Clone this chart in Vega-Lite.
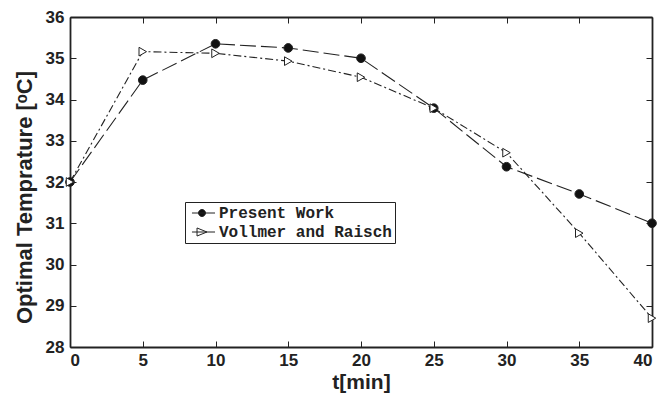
{
  "$schema": "https://vega.github.io/schema/vega-lite/v6.json",
  "autosize": "none",
  "width": 582,
  "height": 330,
  "padding": {"left": 70, "top": 17, "right": 9, "bottom": 50},
  "background": "white",
  "config": {
    "view": {"stroke": null},
    "axis": {
      "grid": false,
      "domainColor": "#222",
      "domainWidth": 1.8,
      "tickColor": "#222",
      "tickWidth": 1,
      "labelFont": "Liberation Sans",
      "labelFontWeight": "bold",
      "labelFontSize": 17,
      "labelColor": "#222",
      "titleFont": "Liberation Sans",
      "titleFontWeight": "bold",
      "titleFontSize": 21,
      "titleColor": "#222"
    }
  },
  "data": {
    "values": [
      {"t": 0, "temp": 32.0, "series": "Present Work"},
      {"t": 5, "temp": 34.47, "series": "Present Work"},
      {"t": 10, "temp": 35.35, "series": "Present Work"},
      {"t": 15, "temp": 35.25, "series": "Present Work"},
      {"t": 20, "temp": 35.0, "series": "Present Work"},
      {"t": 25, "temp": 33.79, "series": "Present Work"},
      {"t": 30, "temp": 32.37, "series": "Present Work"},
      {"t": 35, "temp": 31.71, "series": "Present Work"},
      {"t": 40, "temp": 31.0, "series": "Present Work"},
      {"t": 0, "temp": 32.0, "series": "Vollmer and Raisch"},
      {"t": 5, "temp": 35.16, "series": "Vollmer and Raisch"},
      {"t": 10, "temp": 35.12, "series": "Vollmer and Raisch"},
      {"t": 15, "temp": 34.93, "series": "Vollmer and Raisch"},
      {"t": 20, "temp": 34.54, "series": "Vollmer and Raisch"},
      {"t": 25, "temp": 33.79, "series": "Vollmer and Raisch"},
      {"t": 30, "temp": 32.71, "series": "Vollmer and Raisch"},
      {"t": 35, "temp": 30.76, "series": "Vollmer and Raisch"},
      {"t": 40, "temp": 28.70, "series": "Vollmer and Raisch"}
    ]
  },
  "layer": [
    {
      "mark": {"type": "line", "color": "#222", "strokeWidth": 1.1},
      "encoding": {
        "x": {"field": "t", "type": "quantitative", "scale": {"domain": [0, 40], "nice": false},
              "axis": {"orient": "bottom", "values": [0,5,10,15,20,25,30,35,40], "tickSize": -6, "labelPadding": 11, "title": "t[min]", "titlePadding": 3}},
        "y": {"field": "temp", "type": "quantitative", "scale": {"domain": [28, 36], "nice": false, "zero": false},
              "axis": {"orient": "left", "values": [28,29,30,31,32,33,34,35,36], "tickSize": -6, "labelPadding": 12, "title": "Optimal Temprature [ᵒC]", "titleFontSize": 22, "titlePadding": 9, "titleY": 180}},
        "strokeDash": {"field": "series", "type": "nominal",
                       "scale": {"domain": ["Present Work", "Vollmer and Raisch"], "range": [[16, 5], [8, 3, 2, 3]]},
                       "legend": null}
      }
    },
    {
      "mark": {"type": "point", "filled": false, "stroke": "#222", "strokeWidth": 1, "opacity": 1},
      "encoding": {
        "x": {"field": "t", "type": "quantitative", "scale": {"domain": [0, 40], "nice": false},
              "axis": {"orient": "top", "values": [0,5,10,15,20,25,30,35,40], "tickSize": -6, "labels": false, "title": null}},
        "y": {"field": "temp", "type": "quantitative", "scale": {"domain": [28, 36], "nice": false, "zero": false},
              "axis": {"orient": "right", "values": [28,29,30,31,32,33,34,35,36], "tickSize": -6, "labels": false, "title": null}},
        "shape": {"field": "series", "type": "nominal",
                  "scale": {"domain": ["Present Work", "Vollmer and Raisch"], "range": ["circle", "triangle-right"]},
                  "legend": null},
        "fill": {"field": "series", "type": "nominal",
                 "scale": {"domain": ["Present Work", "Vollmer and Raisch"], "range": ["#111", "white"]},
                 "legend": null},
        "size": {"value": 75}
      }
    },
    {
      "transform": [{"filter": "false"}],
      "mark": {"type": "point", "filled": false, "stroke": "#222", "strokeWidth": 1, "opacity": 1},
      "encoding": {
        "shape": {"field": "series", "type": "nominal",
                  "scale": {"domain": ["Present Work", "Vollmer and Raisch"],
                            "range": ["M-0.67,0H3.17M1.58,0A0.58,0.58,0,1,1,0.42,0A0.58,0.58,0,1,1,1.58,0Z",
                                      "M-0.67,0H3.17M0.17,-0.67L1.83,0L0.17,0.67Z"]},
                  "legend": {
                    "title": null, "orient": "none", "legendX": 115, "legendY": 185,
                    "strokeColor": "#222", "padding": 3, "fillColor": "white",
                    "symbolSize": 144, "symbolStrokeColor": "#222", "symbolStrokeWidth": 1,
                    "labelFont": "Liberation Mono", "labelFontWeight": "bold", "labelFontSize": 16,
                    "labelColor": "#222", "labelOffset": 15, "rowPadding": 3, "labelLimit": 400,
                    "encoding": {"symbols": {
                      "fill": {"value": {"expr": "datum.value === 'Present Work' ? '#111' : 'white'"}},
                      "stroke": {"value": "#222"},
                      "strokeWidth": {"value": 1},
                      "size": {"value": 144},
                      "opacity": {"value": 1},
                      "shape": {"value": {"expr": "datum.value === 'Present Work' ? 'M-0.67,0H3.17M1.58,0A0.58,0.58,0,1,1,0.42,0A0.58,0.58,0,1,1,1.58,0Z' : 'M-0.67,0H3.17M0.17,-0.67L1.83,0L0.17,0.67Z'"}}
                    }}
                  }}
      }
    }
  ],
  "resolve": {"axis": {"x": "independent", "y": "independent"}, "scale": {"shape": "independent"}}
}
